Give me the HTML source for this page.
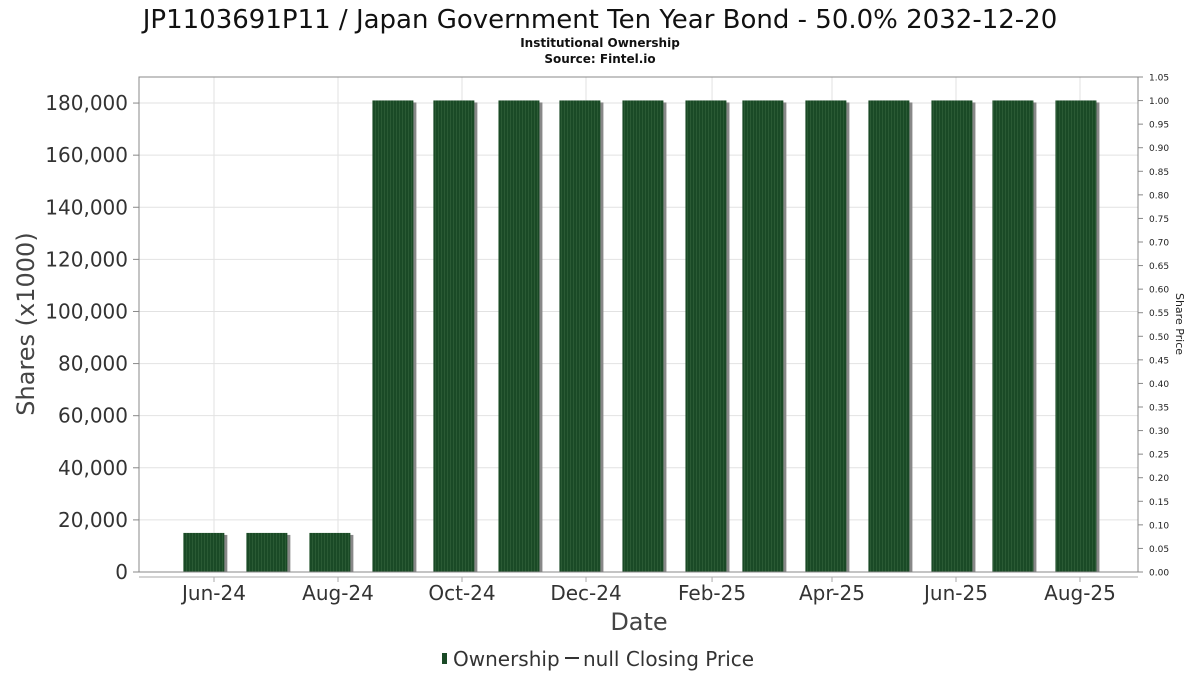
<!DOCTYPE html>
<html><head><meta charset="utf-8"><style>
body{margin:0;background:#fff;font-family:"DejaVu Sans","Liberation Sans",sans-serif}
</style></head><body>
<svg id="c" width="1200" height="675" xmlns="http://www.w3.org/2000/svg">
<defs>
<pattern id="stripe" width="3" height="10" patternUnits="userSpaceOnUse">
<rect width="3" height="10" fill="#1a4a26"/><rect width="1" height="10" fill="#2a5a34"/>
</pattern>
</defs>
<text x="600" y="28" text-anchor="middle" font-size="26" fill="#111">JP1103691P11 / Japan Government Ten Year Bond - 50.0% 2032-12-20</text>
<text x="600" y="47" text-anchor="middle" font-size="12" font-weight="bold" fill="#111">Institutional Ownership</text>
<text x="600" y="63" text-anchor="middle" font-size="12" font-weight="bold" fill="#111">Source: Fintel.io</text>
<g id="grid"></g>
<g id="bars"></g>
<rect x="139" y="77" width="999" height="495" fill="none" stroke="#888"/>
<line x1="139" y1="577" x2="1138" y2="577" stroke="#aaa"/>
<g id="axes"></g>
<text transform="translate(34,324) rotate(-90)" text-anchor="middle" font-size="24" fill="#444">Shares (x1000)</text>
<text transform="translate(1176,324) rotate(90)" text-anchor="middle" font-size="11" fill="#222">Share Price</text>
<text x="639" y="630" text-anchor="middle" font-size="24" fill="#444">Date</text>
<g>
<rect x="442" y="653" width="5" height="11" fill="#1a4a26"/>
<text x="453" y="666" font-size="20" fill="#333">Ownership</text>
<line x1="565" y1="658" x2="579" y2="658" stroke="#333" stroke-width="2"/>
<text x="583" y="666" font-size="20" fill="#333">null Closing Price</text>
</g>
</svg>
<script>
const dates=["2024-05-27","2024-06-27","2024-07-28","2024-08-28","2024-09-27","2024-10-29","2024-11-28","2024-12-29","2025-01-29","2025-02-26","2025-03-29","2025-04-29","2025-05-30","2025-06-29","2025-07-30"];
const shares=[15000,15000,15000,181000,181000,181000,181000,181000,181000,181000,181000,181000,181000,181000,181000];
const yTicks=[0,20000,40000,60000,80000,100000,120000,140000,160000,180000];
const rTicks=[0,0.05,0.1,0.15,0.2,0.25,0.3,0.35,0.4,0.45,0.5,0.55,0.6,0.65,0.7,0.75,0.8,0.85,0.9,0.95,1.0,1.05];
const xTicks=["2024-06-01","2024-08-01","2024-10-01","2024-12-01","2025-02-01","2025-04-01","2025-06-01","2025-08-01"];
const xTickLabels=["Jun-24","Aug-24","Oct-24","Dec-24","Feb-25","Apr-25","Jun-25","Aug-25"];
const NS="http://www.w3.org/2000/svg";
const t0=Date.parse("2024-06-01"),t1=Date.parse("2025-08-01");
const x=d=>214+(Date.parse(d)-t0)/(t1-t0)*866;
const y=v=>572-v/190000*495;
const yr=v=>572-v/1.05*495;
function mk(tag,attrs,parent,txt){const e=document.createElementNS(NS,tag);for(const k in attrs)e.setAttribute(k,attrs[k]);if(txt!=null)e.textContent=txt;document.getElementById(parent).appendChild(e);return e;}
yTicks.forEach(v=>{
 const g=mk("line",{x1:139,x2:1138,y1:y(v),y2:y(v),stroke:"#e2e2e2"},"grid");
 
 
 const tk=mk("line",{x1:133,x2:139,y1:y(v),y2:y(v),stroke:"#888"},"axes");
 
 
 const t=mk("text",{x:128,y:y(v)+7,"text-anchor":"end","font-size":20,fill:"#333"},"axes",v.toLocaleString("en-US"));
 
 
});
rTicks.forEach(v=>{
 const tk=mk("line",{x1:1138,x2:1143,y1:yr(v),y2:yr(v),stroke:"#888"},"axes");
 
 
 const t=mk("text",{x:1149,y:yr(v)+3.5,"font-size":9,fill:"#222"},"axes",v.toFixed(2));
 
 
});
xTicks.forEach((d,i)=>{
 const g=mk("line",{x1:x(d),x2:x(d),y1:77,y2:572,stroke:"#e2e2e2"},"grid");
 
 
 const tk=mk("line",{x1:x(d),x2:x(d),y1:577,y2:582,stroke:"#aaa"},"axes");
 
 
 const t=mk("text",{x:x(d),y:600,"text-anchor":"middle","font-size":20,fill:"#333"},"axes",xTickLabels[i]);
 
 
});
dates.forEach((d,i)=>{
 const cx=x(d),w=41,top=y(shares[i]);
 const s=mk("rect",{x:cx-w/2+3,y:top+2,width:w,height:572-top-2,fill:"#888"},"bars");
 
 
 const b=mk("rect",{x:cx-w/2,y:top,width:w,height:572-top,fill:"url(#stripe)"},"bars");
 
 
});
</script>
</body></html>
